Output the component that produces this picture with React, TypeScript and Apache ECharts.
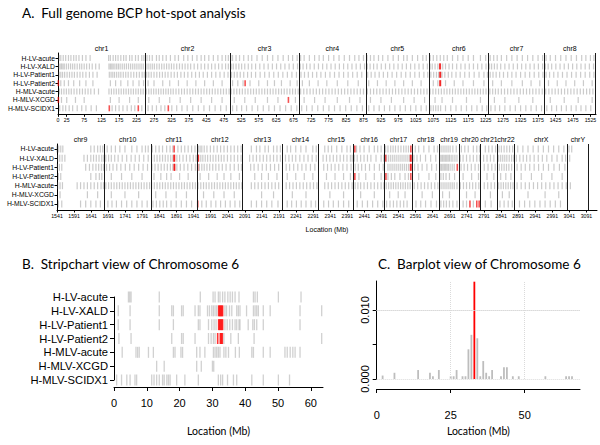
import React, { useEffect, useRef } from 'react';
import * as echarts from 'echarts';

const samples = ['H-LV-acute', 'H-LV-XALD', 'H-LV-Patient1', 'H-LV-Patient2', 'H-MLV-acute', 'H-MLV-XCGD', 'H-MLV-SCIDX1'];

const chrNames = ['chr1','chr2','chr3','chr4','chr5','chr6','chr7','chr8','chr9','chr10','chr11','chr12','chr13','chr14','chr15','chr16','chr17','chr18','chr19','chr20','chr21','chr22','chrX','chrY'];
const chrStarts = [0,249.3,492.5,690.5,881.6,1062.5,1233.7,1392.8,1539.2,1680.4,1815.9,1950.9,2084.8,2199.9,2307.3,2409.8,2500.2,2581.4,2659.4,2718.6,2781.6,2829.7,2881.0,3036.3];
const chrEnds = [249.3,492.5,690.5,881.6,1062.5,1233.7,1392.8,1539.2,1680.4,1815.9,1950.9,2084.8,2199.9,2307.3,2409.8,2500.2,2581.4,2659.4,2718.6,2781.6,2829.7,2881.0,3036.3,3095.7];

const ticksA1 = [0,25,75,125,175,225,275,325,375,425,475,525,575,625,675,725,775,825,875,925,975,1025,1075,1125,1175,1225,1275,1325,1375,1425,1475,1525];
const ticksA2 = [1541,1591,1641,1691,1741,1791,1841,1891,1941,1991,2041,2091,2141,2191,2241,2291,2341,2391,2441,2491,2541,2591,2641,2691,2741,2791,2841,2891,2941,2991,3041,3091];

// Genome-wide integration sites (cumulative Mb)
const gAcute = [3,8,15,22,30,37,45,52,60,70,80,92,145,150,158,165,172,180,188,195,205,212,222,230,240,246,
  255,262,270,282,290,300,310,322,335,345,360,372,385,398,410,420,432,445,458,470,480,488,
  495,500,510,520,532,545,555,570,585,600,615,630,645,660,672,685,
  695,705,720,735,748,760,775,790,805,820,835,850,862,875,
  885,895,905,918,930,945,960,975,990,1000,1015,1030,1045,1055,
  1066,1075,1085,1095,1105,1115,1130,1145,1160,1175,1190,1210,1225,
  1238,1248,1258,1270,1285,1300,1315,1330,1345,1360,1375,1388,
  1398,1410,1425,1440,1455,1470,1485,1500,1512,1525,1535,
  1541,1546,1552,1558,1640,1650,1660,1668,1675,
  1688,1700,1712,1725,1740,1760,1775,1790,1800,1808,
  1820,1830,1840,1850,1862,1872,1880,1895,1905,1915,1925,1935,1945,
  1955,1960,1965,1972,1980,1990,2000,2010,2020,2030,2040,2050,2060,2070,2080,
  2110,2125,2135,2150,2160,2175,2185,2195,
  2215,2225,2240,2255,2270,2290,2300,
  2325,2335,2345,2360,2375,2390,2400,
  2418,2428,2440,2455,2470,2480,2490,
  2503,2510,2518,2525,2532,2540,2548,2556,2563,2570,
  2590,2600,2615,2630,2645,2655,
  2662,2668,2674,2680,2686,2692,2700,2710,
  2725,2735,2745,2760,2770,2778,
  2795,2805,2815,2825,
  2835,2842,2850,2858,2866,2875,
  2890,2905,2920,2935,2950,2965,2980,2995,3010,3025,
  3040,3048];
const gXALD = [2,6,10,14,18,24,30,36,42,48,55,62,68,75,82,90,98,108,118,146,150,154,158,163,168,173,178,184,190,196,202,208,214,220,226,232,238,244,
  252,258,264,270,276,283,290,297,304,311,318,325,332,340,348,356,364,372,380,390,400,410,420,430,440,450,460,470,480,488,
  496,502,510,518,526,535,545,555,566,578,590,602,614,626,638,650,662,674,686,
  694,702,712,722,734,746,758,770,782,794,806,818,830,842,854,866,878,
  886,894,904,914,926,938,950,962,974,986,998,1010,1022,1034,1046,1058,
  1066,1072,1080,1088,1102,1110,1120,1130,1142,1154,1166,1178,1190,1202,1214,1226,
  1236,1242,1250,1258,1268,1280,1292,1304,1316,1328,1340,1352,1364,1376,1388,
  1396,1404,1414,1426,1438,1450,1462,1474,1486,1498,1510,1522,1534,
  1543,1549,1556,1564,1620,1630,1640,1648,1656,1664,1672,1678,
  1684,1692,1700,1710,1720,1732,1745,1758,1770,1782,1795,1808,
  1818,1826,1834,1842,1850,1858,1866,1874,1880,1892,1900,1910,1920,1930,1940,1948,
  1962,1968,1975,1982,1990,1998,2006,2014,2022,2030,2040,2050,2060,2070,2080,
  2105,2115,2125,2135,2145,2155,2165,2175,2185,2195,
  2210,2220,2230,2240,2252,2264,2276,2288,2300,
  2320,2330,2340,2350,2360,2370,2380,2390,2400,2405,
  2412,2420,2430,2440,2450,2460,2475,2490,2498,
  2506,2512,2518,2524,2530,2536,2542,2548,2554,2560,2566,2572,
  2586,2595,2605,2620,2635,2650,
  2662,2666,2670,2674,2678,2682,2686,2690,2695,2700,2706,2712,
  2722,2730,2740,2750,2760,2770,2778,
  2790,2800,2810,2820,
  2834,2840,2846,2852,2858,2865,2872,2878,
  2886,2896,2906,2916,2926,2938,2950,2962,2975,2990,3005,3020,3030,
  3042];
const gPatient1 = [3,8,13,19,26,33,40,47,55,63,71,80,90,100,112,147,152,157,162,168,174,180,187,194,201,209,217,225,233,241,247,
  254,260,267,275,283,291,299,307,315,324,333,342,352,362,372,383,394,405,416,428,440,452,464,476,487,
  497,505,513,522,532,543,554,566,579,592,605,618,631,644,657,670,683,
  696,706,717,729,741,753,766,779,792,805,818,831,844,857,870,
  887,897,908,920,932,944,957,970,983,996,1009,1022,1035,1048,1059,
  1068,1076,1084,1090,1100,1108,1118,1128,1140,1152,1165,1178,1192,1206,1220,1230,
  1238,1246,1255,1265,1276,1288,1300,1312,1325,1338,1351,1364,1377,1389,
  1398,1408,1420,1432,1445,1458,1471,1484,1497,1510,1523,1535,
  1542,1548,1555,1625,1636,1646,1655,1663,1671,1677,
  1686,1695,1705,1716,1728,1741,1754,1767,1780,1793,1806,
  1819,1828,1837,1846,1855,1864,1873,1880,1892,1902,1913,1924,1935,1946,
  1958,1965,1972,1980,1988,1997,2006,2015,2025,2036,2048,2060,2072,2081,
  2108,2118,2130,2142,2154,2166,2178,2190,
  2212,2222,2234,2246,2258,2270,2283,2296,
  2322,2333,2344,2355,2366,2378,2390,2402,
  2414,2423,2433,2444,2456,2470,2485,2496,
  2510,2516,2522,2528,2534,2540,2546,2552,2558,2564,2570,
  2588,2598,2610,2624,2638,2652,
  2663,2667,2671,2675,2679,2683,2687,2692,2698,2704,
  2724,2733,2743,2754,2765,2775,
  2792,2803,2814,2824,
  2836,2843,2850,2857,2864,2872,
  2888,2900,2912,2925,2938,2951,2965,2980,2996,3012,3028];
const gPatient2 = [8,18,30,45,62,80,100,150,165,180,200,215,232,245,
  258,275,300,320,345,370,395,420,445,470,
  500,515,530,550,575,600,620,640,665,685,
  700,720,745,770,800,830,860,
  890,915,940,965,990,1015,1040,
  1075,1088,1110,1135,1160,1190,1220,
  1245,1270,1300,1330,1355,1380,
  1405,1430,1455,1480,1505,1530,
  1545,1552,1640,1655,1665,1672,
  1700,1730,1760,1790,
  1825,1845,1862,1875,1900,1925,
  1960,1985,2010,2030,2050,2075,
  2120,2140,2160,2185,
  2215,2240,2265,2290,
  2330,2355,2380,2400,
  2425,2445,2470,2490,
  2510,2520,2530,2545,2560,2570,
  2600,2630,2650,
  2665,2672,2680,2690,2705,
  2730,2755,2775,
  2800,2820,
  2840,2855,2870,
  2900,2930,2960,2990,3020];
const gMLVacute = [4,10,17,24,31,38,46,54,62,70,78,86,94,104,116,146,153,160,167,174,181,188,195,202,209,216,223,230,237,244,
  253,260,267,274,281,288,295,302,309,316,323,330,338,346,354,362,370,378,386,394,402,410,418,426,434,442,450,458,466,474,482,490,
  496,504,512,520,528,536,544,552,560,568,576,584,592,600,608,616,624,632,640,648,656,664,672,680,688,
  695,704,713,722,731,740,749,758,767,776,785,794,803,812,821,830,839,848,857,866,875,
  886,895,904,913,922,931,940,949,958,967,976,985,994,1003,1012,1021,1030,1039,1048,1057,
  1066,1074,1082,1090,1098,1106,1114,1122,1130,1138,1146,1154,1162,1170,1178,1186,1194,1202,1210,1218,1226,
  1237,1245,1253,1261,1270,1279,1288,1297,1306,1315,1324,1333,1342,1351,1360,1369,1378,1387,
  1397,1406,1415,1424,1433,1442,1451,1460,1469,1478,1487,1496,1505,1514,1523,1532,
  1543,1550,1557,1600,1610,1620,1630,1640,1650,1660,1670,1677,
  1684,1692,1700,1708,1716,1724,1732,1740,1748,1756,1764,1772,1780,1788,1796,1804,1812,
  1818,1826,1834,1842,1850,1858,1866,1874,1882,1890,1898,1906,1914,1922,1930,1938,1946,
  1954,1962,1970,1978,1986,1994,2002,2010,2018,2026,2034,2042,2050,2058,2066,2074,2082,
  2110,2120,2130,2140,2150,2160,2170,2180,2190,
  2212,2222,2232,2242,2252,2262,2272,2282,2292,2302,
  2325,2335,2345,2355,2365,2375,2385,2395,2405,
  2414,2422,2430,2440,2450,2460,2470,2480,2490,2498,
  2505,2512,2519,2526,2533,2540,2547,2554,2561,2568,2575,
  2587,2597,2607,2617,2627,2637,2647,2656,
  2662,2668,2674,2680,2686,2692,2698,2704,2712,
  2722,2731,2740,2749,2758,2767,2776,
  2792,2802,2812,2822,
  2834,2841,2848,2855,2862,2869,2876,
  2888,2900,2912,2924,2936,2948,2960,2972,2984,2996,3008,3020,3032,
  3044];
const gXCGD = [10,25,50,75,150,175,205,230,
  260,290,320,350,380,410,440,470,
  505,535,565,600,630,680,
  705,735,765,800,835,865,
  895,925,955,990,1020,1050,
  1080,1100,1130,1170,1210,
  1250,1280,1320,1360,
  1410,1450,1490,1530,
  1550,1630,1660,
  1700,1740,1780,
  1830,1860,1890,1920,
  1970,2000,2030,2060,
  2140,2175,
  2230,2270,
  2340,2380,
  2430,2470,
  2515,2540,2560,
  2610,2640,
  2670,2690,
  2740,2765,
  2810,
  2845,2865,
  2920,2970,3010];
const gSCIDX1 = [5,14,22,32,42,55,68,80,95,110,155,165,175,186,198,210,220,240,
  258,270,282,295,306,326,340,355,370,386,402,418,434,450,466,482,
  500,512,526,540,556,572,588,604,620,636,652,668,684,
  698,712,728,744,760,776,792,808,824,840,856,872,
  890,905,920,935,950,965,980,995,1010,1025,1040,1055,
  1068,1075,1082,1089,1096,1110,1125,1140,1155,1170,1185,1200,1215,1228,
  1240,1252,1265,1280,1295,1310,1325,1340,1355,1370,1385,
  1400,1414,1428,1442,1456,1470,1484,1498,1512,1526,
  1545,1555,1610,1625,1640,1655,1668,
  1690,1702,1715,1730,1745,1760,1775,1790,1805,
  1822,1832,1842,1852,1862,1875,1890,1905,1920,1935,
  1965,1978,1992,2006,2020,2034,2048,2062,2076,
  2110,2125,2140,2155,2170,2188,
  2215,2228,2242,2256,2270,2285,2298,
  2322,2336,2350,2365,2380,2395,
  2420,2435,2450,2465,2480,2495,
  2506,2516,2526,2536,2546,2556,2566,
  2592,2606,2620,2636,2652,
  2665,2673,2681,2690,2700,2712,
  2730,2740,2760,
  2795,2812,
  2838,2850,2862,2874,
  2895,2910,2925,2940,2955,2970,2985,3000,3015];

// Hot-spots (red) per sample, cumulative Mb
const hAcute = [1884, 2413, 2577];
const hXALD = [1093.5, 1095, 1883.5, 1885, 1953, 1955, 2503, 2576, 2577.5];
const hPatient1 = [1094, 1095.5, 1884, 1885.5, 1953, 2576, 2577.5, 2713];
const hPatient2 = [1, 536, 1094, 1095.5, 2413, 2504, 2577];
const hMLVacute: number[] = [];
const hXCGD = [1, 660];
const hSCIDX1 = [147, 230, 316, 1953, 2750, 2770, 2777];

// Chromosome 6 stripchart (Mb)
const sAcute = [4.4,4.8,5.2,13.8,26.3,30.2,30.8,31.8,32.3,33.1,33.8,34.7,35.4,36.1,36.9,38.1,42.5,43.0,43.7,50.1,57.0];
const sXALD = [1.3,4.9,13.8,17.6,18.1,20.6,21.1,24.7,25.7,26.2,28.5,29.1,29.8,30.3,30.8,31.3,33.8,34.3,35.2,35.9,37.4,37.9,38.4,40.4,42.5,43.0,43.5,44.0,45.5,47.6,56.7,63.3];
const sPatient1 = [1.3,4.9,13.8,18.1,25.7,26.2,28.8,29.8,30.5,31.1,33.8,34.5,35.3,36.1,36.9,37.4,38.1,38.4,40.9,42.3,42.8,43.5,45.5,56.7];
const sPatient2 = [1.5,5.2,17.6,20.6,21.1,24.7,28.8,29.6,30.3,30.8,33.5,35.6,37.9,42.7,63.3];
const sMLVacute = [2.5,6.7,7.2,7.7,10.5,12.0,18.1,18.6,20.4,20.9,25.2,26.2,27.7,30.3,30.8,31.3,31.8,32.3,33.5,34.1,34.9,37.0,38.2,42.0,42.5,45.5,47.6,52.1,52.8,53.7,54.5,55.2,56.7];
const sXCGD = [13.0,15.3,25.2,26.6,30.0,30.4];
const sSCIDX1 = [0.8,2.3,3.9,4.9,6.4,6.9,11.5,12.2,13.0,13.8,14.8,15.3,16.1,16.6,17.1,19.1,21.6,25.7,31.8,32.5,33.1,34.6,36.4,37.4,42.0,45.5,50.1,53.5];
const sRedXALD = [31.9,32.2,32.5,32.8,33.1];
const sRedPatient1 = [31.9,32.2,32.5,32.8,33.1];
const sRedPatient2 = [31.6,32.4,32.7,33.0];

// Chromosome 6 barplot
const barPos = [2,6,14,18,19,21,25,26,27,29,30,31,32,33,34,35,36,37,38,39,42,43,44,46,48,57,64,65,66];
const barFreq = [0.0005,0.0009,0.0013,0.0009,0.0004,0.0013,0.0004,0.0004,0.0013,0.0004,0.0004,0.0043,0.0064,0.0141,0.0059,0.0004,0.0026,0.0009,0.0004,0.0013,0.0004,0.0017,0.0017,0.0004,0.0004,0.0004,0.0004,0.0004,0.0004];
const hotSpotPos = 33;
const gridLinesY = [0.00254, 0.00623, 0.010, 0.01377];
const gridLinesX = [25, 50];

const genome = [gAcute, gXALD, gPatient1, gPatient2, gMLVacute, gXCGD, gSCIDX1];
const hots = [hAcute, hXALD, hPatient1, hPatient2, hMLVacute, hXCGD, hSCIDX1];
const strips = [sAcute, sXALD, sPatient1, sPatient2, sMLVacute, sXCGD, sSCIDX1];
const stripsRed = [[], sRedXALD, sRedPatient1, sRedPatient2, [], [], []];

const SPLIT = 1541;
const A2MAX = 3122;

function toPts(arrs: number[][], lo: number, hi: number) {
  const out: number[][] = [];
  arrs.forEach((a, i) => a.forEach((x) => { if (x >= lo && x < hi) out.push([x, 7 - i]); }));
  return out;
}

const F = 'Liberation Sans, Arial, sans-serif';
const T = 'Lato, sans-serif';

export default function App() {
  const ref = useRef<HTMLDivElement>(null);
  useEffect(() => {
    if (!ref.current) return;
    const chart = echarts.init(ref.current, undefined, { renderer: 'svg' });
    const mids = chrStarts.map((s, i) => (s + chrEnds[i]) / 2);
    const midsA1 = mids.filter((m) => m < SPLIT);
    const midsA2 = mids.filter((m) => m >= SPLIT);
    const chrLabel = (v: number) => {
      const i = mids.findIndex((m) => Math.abs(m - v) < 0.01);
      return i >= 0 ? chrNames[i] : '';
    };
    const rows = [1, 2, 3, 4, 5, 6, 7];
    const rowLabel = (v: number) => samples[7 - Math.round(v)] || '';
    const grayA = 'rgba(100,100,100,0.42)';
    const redA = 'rgba(240,0,0,0.85)';
    const bnd = (lo: number, hi: number) => chrEnds.filter((e) => e > lo && e <= hi).map((v) => ({ xAxis: v }));
    const plain = (v: number) => String(v);

    const yAxisA = (gridIndex: number, min: number, max: number) => ({
      type: 'value', gridIndex, min, max,
      axisLine: { show: true, lineStyle: { color: '#000', width: 1 } },
      axisTick: { show: true, length: 2.5, customValues: rows, lineStyle: { color: '#000' } },
      axisLabel: { customValues: rows, formatter: rowLabel, fontSize: 6.8, fontFamily: F, color: '#000', margin: 3 },
      splitLine: { show: false },
    });
    const xAxisA = (gridIndex: number, min: number, max: number, ticks: number[], name?: string) => ({
      type: 'value', gridIndex, min, max, position: 'bottom',
      axisLine: { show: true, onZero: false, lineStyle: { color: '#000', width: 1 } },
      axisTick: { show: true, length: 2.5, customValues: ticks, lineStyle: { color: '#000' } },
      axisLabel: { customValues: ticks, formatter: plain, fontSize: 5.2, fontFamily: F, color: '#000', margin: 3.5 },
      splitLine: { show: false },
      name: name || '', nameLocation: 'middle', nameGap: 16,
      nameTextStyle: { fontSize: 7, fontFamily: F, color: '#000' },
    });
    const xAxisChr = (gridIndex: number, min: number, max: number, ms: number[]) => ({
      type: 'value', gridIndex, min, max, position: 'top',
      axisLine: { show: false }, axisTick: { show: false }, splitLine: { show: false },
      axisLabel: { customValues: ms, formatter: chrLabel, fontSize: 7, fontFamily: F, color: '#000', margin: 1 },
    });

    const option: any = {
      animation: false,
      title: [
        { text: 'A.  Full genome BCP hot-spot analysis', left: 22, top: 6, padding: 0, textStyle: { fontSize: 13.5, fontFamily: T, fontWeight: 'normal', color: '#000' } },
        { text: 'B.  Stripchart view of Chromosome 6', left: 22, top: 257, padding: 0, textStyle: { fontSize: 13.5, fontFamily: T, fontWeight: 'normal', color: '#000' } },
        { text: 'C.  Barplot view of Chromosome 6', left: 378, top: 257, padding: 0, textStyle: { fontSize: 13.5, fontFamily: T, fontWeight: 'normal', color: '#000' } },
      ],
      grid: [
        { left: 58, width: 538, top: 53, height: 61.3 },
        { left: 57, width: 540, top: 144, height: 66 },
        { left: 114, width: 209, top: 297, height: 83 },
        { left: 376.7, width: 203.3, top: 281, height: 98 },
      ],
      xAxis: [
        xAxisA(0, 0, SPLIT, ticksA1),
        xAxisChr(0, 0, SPLIT, midsA1),
        xAxisA(1, SPLIT, A2MAX, ticksA2, 'Location (Mb)'),
        xAxisChr(1, SPLIT, A2MAX, midsA2),
        {
          type: 'value', gridIndex: 2, min: 0, max: 63.7, offset: 7,
          axisLine: { show: true, onZero: false, lineStyle: { color: '#000' } },
          axisTick: { show: true, length: 4, customValues: [0, 10, 20, 30, 40, 50, 60], lineStyle: { color: '#000' } },
          axisLabel: { customValues: [0, 10, 20, 30, 40, 50, 60], fontSize: 11, fontFamily: F, color: '#000', margin: 10 },
          splitLine: { show: false },
          name: 'Location (Mb)', nameLocation: 'middle', nameGap: 38,
          nameTextStyle: { fontSize: 10.5, fontFamily: T, color: '#000' },
        },
        {
          type: 'value', gridIndex: 3, min: 0, max: 68.7, offset: 10,
          axisLine: { show: true, onZero: false, lineStyle: { color: '#000' } },
          axisTick: { show: true, length: 4, customValues: [0, 25, 50], lineStyle: { color: '#000' } },
          axisLabel: { customValues: [0, 25, 50], fontSize: 11, fontFamily: F, color: '#000', margin: 20 },
          splitLine: { show: false },
          name: 'Location (Mb)', nameLocation: 'middle', nameGap: 36,
          nameTextStyle: { fontSize: 10.5, fontFamily: T, color: '#000' },
        },
      ],
      yAxis: [
        yAxisA(0, 0.284, 7.6),
        yAxisA(1, 0.345, 7.545),
        {
          type: 'value', gridIndex: 2, min: 1, max: 7,
          axisLine: { show: true, lineStyle: { color: '#000' } },
          axisTick: { show: true, length: 4, customValues: rows, lineStyle: { color: '#000' } },
          axisLabel: { customValues: rows, formatter: rowLabel, fontSize: 11.2, fontFamily: F, color: '#000', margin: 6 },
          splitLine: { show: false },
        },
        {
          type: 'value', gridIndex: 3, min: 0, max: 0.0142,
          axisLine: { show: true, lineStyle: { color: '#000' } },
          axisTick: { show: true, length: 4, customValues: [0, 0.005, 0.01], lineStyle: { color: '#000' } },
          axisLabel: {
            customValues: [0, 0.01], rotate: 90, fontSize: 11, fontFamily: F, color: '#000', margin: 6,
            formatter: (v: number) => v.toFixed(3),
          },
          splitLine: { show: false },
        },
      ],
      series: [
        {
          type: 'scatter', xAxisIndex: 0, yAxisIndex: 0, symbol: 'rect', symbolSize: [1.2, 6],
          itemStyle: { color: grayA }, data: toPts(genome, 0, SPLIT), silent: true,
          markLine: { silent: true, symbol: ['none', 'none'], label: { show: false },
            lineStyle: { color: '#1a1a1a', width: 1, type: 'solid' }, data: bnd(0, SPLIT) },
        },
        {
          type: 'scatter', xAxisIndex: 0, yAxisIndex: 0, symbol: 'rect', symbolSize: [1.6, 6],
          itemStyle: { color: redA }, data: toPts(hots, 0, SPLIT), silent: true,
        },
        {
          type: 'scatter', xAxisIndex: 2, yAxisIndex: 1, symbol: 'rect', symbolSize: [1.2, 7],
          itemStyle: { color: grayA }, data: toPts(genome, SPLIT, A2MAX), silent: true,
          markLine: { silent: true, symbol: ['none', 'none'], label: { show: false },
            lineStyle: { color: '#1a1a1a', width: 1, type: 'solid' }, data: bnd(SPLIT, A2MAX) },
        },
        {
          type: 'scatter', xAxisIndex: 2, yAxisIndex: 1, symbol: 'rect', symbolSize: [1.6, 7],
          itemStyle: { color: redA }, data: toPts(hots, SPLIT, A2MAX), silent: true,
        },
        {
          type: 'scatter', xAxisIndex: 4, yAxisIndex: 2, symbol: 'rect', symbolSize: [1.3, 11],
          itemStyle: { color: 'rgba(150,150,150,0.55)' }, data: toPts(strips, 0, 100), silent: true,
        },
        {
          type: 'scatter', xAxisIndex: 4, yAxisIndex: 2, symbol: 'rect', symbolSize: [1.6, 11],
          itemStyle: { color: '#ff0000' }, data: toPts(stripsRed, 0, 100), silent: true,
        },
        {
          type: 'bar', xAxisIndex: 5, yAxisIndex: 3, barWidth: 1.8, silent: true,
          data: barPos.map((x, i) => ({
            value: [x, barFreq[i]],
            itemStyle: { color: x === hotSpotPos ? '#ff0000' : '#bdbdbd' },
          })),
          markLine: { silent: true, symbol: ['none', 'none'], label: { show: false },
            lineStyle: { color: '#dadada', width: 1, type: 'dotted' },
            data: [...gridLinesY.map((v) => ({ yAxis: v })), ...gridLinesX.map((v) => ({ xAxis: v }))] },
        },
      ],
    };
    chart.setOption(option);
    return () => chart.dispose();
  }, []);
  return <div ref={ref} style={{ width: 600, height: 445, position: 'absolute', left: 0, top: 0 }} />;
}
